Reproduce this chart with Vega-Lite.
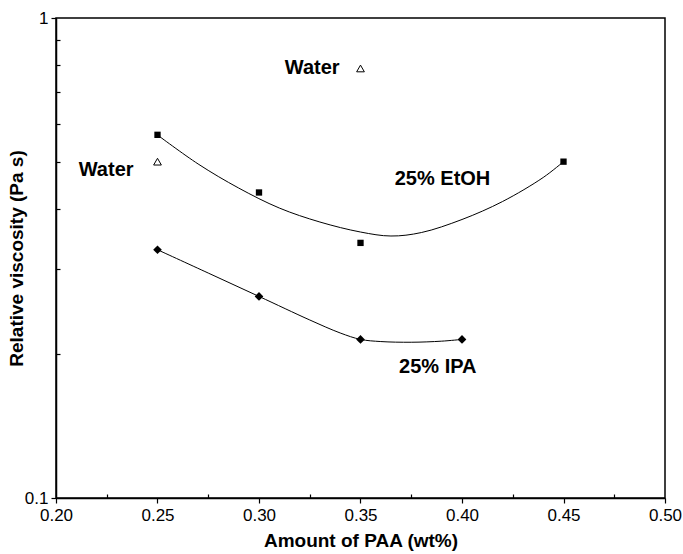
{
  "$schema": "https://vega.github.io/schema/vega-lite/v6.json",
  "autosize": "none",
  "width": 609,
  "height": 480,
  "padding": {"left": 56, "top": 18, "right": 18, "bottom": 56},
  "background": "white",
  "config": {
    "view": {"stroke": "black", "strokeWidth": 1.5},
    "font": "Liberation Sans"
  },
  "datasets": {
    "points": [
      {"series": "EtOH", "x": 0.25, "y": 0.571},
      {"series": "EtOH", "x": 0.30, "y": 0.433},
      {"series": "EtOH", "x": 0.35, "y": 0.340},
      {"series": "EtOH", "x": 0.45, "y": 0.502},
      {"series": "IPA", "x": 0.25, "y": 0.329},
      {"series": "IPA", "x": 0.30, "y": 0.263},
      {"series": "IPA", "x": 0.35, "y": 0.214},
      {"series": "IPA", "x": 0.40, "y": 0.214},
      {"series": "Water", "x": 0.25, "y": 0.502},
      {"series": "Water", "x": 0.35, "y": 0.785}
    ],
    "curves": [
      {"series": "EtOH", "x": 0.25, "y": 0.5705},
      {"series": "EtOH", "x": 0.27, "y": 0.4965},
      {"series": "EtOH", "x": 0.29, "y": 0.4423},
      {"series": "EtOH", "x": 0.31, "y": 0.4019},
      {"series": "EtOH", "x": 0.33, "y": 0.3758},
      {"series": "EtOH", "x": 0.35, "y": 0.3582},
      {"series": "EtOH", "x": 0.365, "y": 0.3514},
      {"series": "EtOH", "x": 0.38, "y": 0.3573},
      {"series": "EtOH", "x": 0.40, "y": 0.3804},
      {"series": "EtOH", "x": 0.42, "y": 0.4147},
      {"series": "EtOH", "x": 0.44, "y": 0.4653},
      {"series": "EtOH", "x": 0.45, "y": 0.502},
      {"series": "IPA", "x": 0.25, "y": 0.329},
      {"series": "IPA", "x": 0.275, "y": 0.2942},
      {"series": "IPA", "x": 0.30, "y": 0.263},
      {"series": "IPA", "x": 0.325, "y": 0.2349},
      {"series": "IPA", "x": 0.34, "y": 0.2207},
      {"series": "IPA", "x": 0.35, "y": 0.214},
      {"series": "IPA", "x": 0.36, "y": 0.2118},
      {"series": "IPA", "x": 0.375, "y": 0.2111},
      {"series": "IPA", "x": 0.39, "y": 0.2122},
      {"series": "IPA", "x": 0.40, "y": 0.214}
    ],
    "labels": [
      {"text": "Water", "x": 0.2247, "y": 0.4826},
      {"text": "Water", "x": 0.3262, "y": 0.787},
      {"text": "25% EtOH", "x": 0.3904, "y": 0.462},
      {"text": "25% IPA", "x": 0.3881, "y": 0.1875}
    ]
  },
  "encoding": {
    "x": {
      "field": "x",
      "type": "quantitative",
      "scale": {"domain": [0.2, 0.5], "nice": false, "zero": false},
      "axis": {
        "title": "Amount of PAA (wt%)",
        "values": [0.2, 0.225, 0.25, 0.275, 0.3, 0.325, 0.35, 0.375, 0.4, 0.425, 0.45, 0.475, 0.5],
        "labelExpr": "abs(datum.value*20 - round(datum.value*20)) < 0.000001 ? format(datum.value, '.2f') : ''",
        "labelFlush": false,
        "labelOverlap": false,
        "labelFontSize": 17,
        "labelColor": "black",
        "labelPadding": 4,
        "tickSize": {"condition": {"test": "abs(datum.value*20 - round(datum.value*20)) < 0.000001", "value": 5}, "value": -4},
        "tickColor": "black",
        "tickWidth": 1.2,
        "domainColor": "black",
        "domainWidth": 1.5,
        "grid": false,
        "titleFontSize": 19,
        "titleFontWeight": "bold",
        "titleColor": "black",
        "titlePadding": 8
      }
    },
    "y": {
      "field": "y",
      "type": "quantitative",
      "scale": {"type": "log", "domain": [0.1, 1], "nice": false},
      "axis": {
        "title": "Relative viscosity (Pa s)",
        "values": [0.1, 0.2, 0.3, 0.4, 0.5, 0.6, 0.7, 0.8, 0.9, 1],
        "labelExpr": "datum.value == 1 ? '1' : (abs(datum.value - 0.1) < 0.000001 ? '0.1' : '')",
        "labelOverlap": false,
        "labelFlush": false,
        "labelFontSize": 17,
        "labelColor": "black",
        "labelPadding": 3,
        "tickSize": {"condition": {"test": "datum.value == 1 || abs(datum.value - 0.1) < 0.000001", "value": 5}, "value": -4},
        "tickColor": "black",
        "tickWidth": 1.2,
        "domainColor": "black",
        "domainWidth": 1.5,
        "grid": false,
        "titleFontSize": 19,
        "titleFontWeight": "bold",
        "titleColor": "black",
        "titlePadding": -2
      }
    }
  },
  "layer": [
    {
      "data": {"name": "curves"},
      "mark": {"type": "line", "interpolate": "catmull-rom", "color": "black", "strokeWidth": 1},
      "encoding": {"detail": {"field": "series"}}
    },
    {
      "data": {"name": "points"},
      "transform": [{"filter": "datum.series == 'EtOH'"}],
      "mark": {"type": "point", "shape": "square", "filled": true, "color": "black", "size": 40, "opacity": 1}
    },
    {
      "data": {"name": "points"},
      "transform": [{"filter": "datum.series == 'IPA'"}],
      "mark": {"type": "point", "shape": "diamond", "filled": true, "color": "black", "size": 75, "opacity": 1}
    },
    {
      "data": {"name": "points"},
      "transform": [{"filter": "datum.series == 'Water'"}],
      "mark": {"type": "point", "shape": "triangle-up", "filled": false, "color": "black", "size": 60, "strokeWidth": 1, "opacity": 1}
    },
    {
      "data": {"name": "labels"},
      "mark": {"type": "text", "fontSize": 20, "fontWeight": "bold", "color": "black", "align": "center", "baseline": "middle"},
      "encoding": {"text": {"field": "text"}}
    }
  ]
}
